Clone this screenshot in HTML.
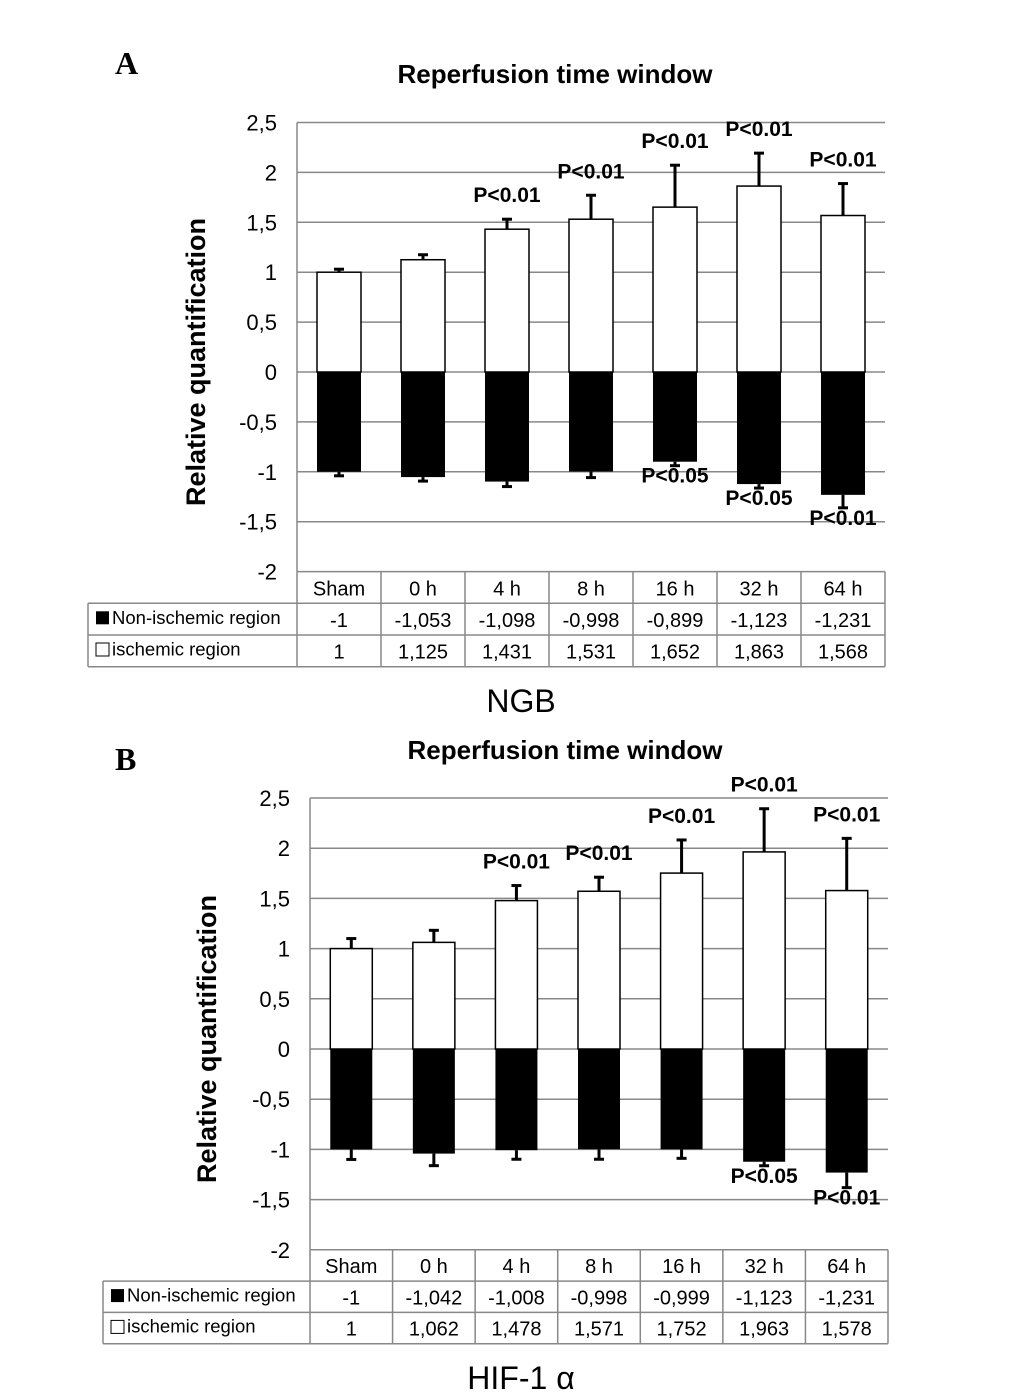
<!DOCTYPE html>
<html><head><meta charset="utf-8"><style>
body{margin:0;background:#fff;}
svg{display:block;font-family:"Liberation Sans",Arial,sans-serif;}
</style></head><body>
<svg id="chart" width="1033" height="1397"></svg>
<script>
const categories=["Sham","0 h","4 h","8 h","16 h","32 h","64 h"];
const ngbNon=[-1,-1.053,-1.098,-0.998,-0.899,-1.123,-1.231];
const ngbIsch=[1,1.125,1.431,1.531,1.652,1.863,1.568];
const ngbNonErr=[0.04,0.04,0.05,0.06,0.04,0.04,0.13];
const ngbIschErr=[0.03,0.05,0.1,0.24,0.42,0.33,0.32];
const ngbPIsch=["","","P<0.01","P<0.01","P<0.01","P<0.01","P<0.01"];
const ngbPNon=["","","","","P<0.05","P<0.05","P<0.01"];
const hifNon=[-1,-1.042,-1.008,-0.998,-0.999,-1.123,-1.231];
const hifIsch=[1,1.062,1.478,1.571,1.752,1.963,1.578];
const hifNonErr=[0.1,0.12,0.09,0.1,0.09,0.04,0.15];
const hifIschErr=[0.1,0.12,0.15,0.14,0.33,0.43,0.52];
const hifPIsch=["","","P<0.01","P<0.01","P<0.01","P<0.01","P<0.01"];
const hifPNon=["","","","","","P<0.05","P<0.01"];
const yTicks=[2.5,2,1.5,1,0.5,0,-0.5,-1,-1.5,-2];
const NS="http://www.w3.org/2000/svg";
const svg=document.getElementById('chart');
function mk(tag,attrs,parent,text){const e=document.createElementNS(NS,tag);for(const k in attrs)e.setAttribute(k,attrs[k]);if(text!==undefined)e.textContent=text;(parent||svg).appendChild(e);return e;}
function fmt(v){return String(v).replace('.',',');}
function panel(p){
  const g=mk('g',{});
  
  
  const y=v=>p.y0-(v)*p.unit;
  const cw=(p.x1-p.x0)/categories.length;
  const x=i=>p.x0+cw*(i+0.5);
  let t=mk('text',{x:p.letterX,y:p.letterY,'font-family':'Liberation Serif,serif','font-weight':'bold','font-size':32},g,p.letter);
  
  t=mk('text',{x:p.titleX,y:p.titleY,'text-anchor':'middle','font-weight':'bold','font-size':26},g,'Reperfusion time window');
  
  yTicks.forEach(v=>{
    const l=mk('line',{x1:p.x0,x2:p.x1,y1:y(v),y2:y(v),stroke:'#888','stroke-width':1.5},g);
    
    const tt=mk('text',{x:p.x0-20,y:y(v)+8,'text-anchor':'end','font-size':22},g,fmt(v));
    
  });
  mk('line',{x1:p.x0,x2:p.x0,y1:y(2.5),y2:y(-2),stroke:'#888','stroke-width':1.5},g);
  t=mk('text',{transform:`translate(${p.axX},${p.y0-10}) rotate(-90)`,'text-anchor':'middle','font-weight':'bold','font-size':27},g,'Relative quantification');
  
  const bw=p.bw;
  categories.forEach((c,i)=>{
    const vi=p.isch[i],vn=p.non[i];
    let r=mk('rect',{x:x(i)-bw/2,y:y(vi),width:bw,height:y(0)-y(vi),fill:'#fff',stroke:'#000','stroke-width':1.5},g);
    
    r=mk('rect',{x:x(i)-bw/2,y:y(0),width:bw,height:y(vn)-y(0),fill:'#000'},g);
    
    const te=vi+p.ie[i];
    mk('line',{x1:x(i),x2:x(i),y1:y(vi),y2:y(te),stroke:'#000','stroke-width':3},g);
    mk('line',{x1:x(i)-5,x2:x(i)+5,y1:y(te),y2:y(te),stroke:'#000','stroke-width':3},g);
    const be=vn-p.ne[i];
    mk('line',{x1:x(i),x2:x(i),y1:y(vn),y2:y(be),stroke:'#000','stroke-width':3},g);
    mk('line',{x1:x(i)-5,x2:x(i)+5,y1:y(be),y2:y(be),stroke:'#000','stroke-width':3},g);
    if(p.pi[i]){const a=mk('text',{x:x(i),y:y(te)-17,'text-anchor':'middle','font-weight':'bold','font-size':21},g,p.pi[i]);}
    if(p.pn[i]){const a=mk('text',{x:x(i),y:y(be)+17,'text-anchor':'middle','font-weight':'bold','font-size':21},g,p.pn[i]);}
  });
  const rh=p.rh,ty=y(-2);
  mk('line',{x1:p.lx,x2:p.x1,y1:ty+rh,y2:ty+rh,stroke:'#888','stroke-width':1.5},g);
  mk('line',{x1:p.lx,x2:p.x1,y1:ty+2*rh,y2:ty+2*rh,stroke:'#888','stroke-width':1.5},g);
  mk('line',{x1:p.lx,x2:p.x1,y1:ty+3*rh,y2:ty+3*rh,stroke:'#888','stroke-width':1.5},g);
  mk('line',{x1:p.lx,x2:p.lx,y1:ty+rh,y2:ty+3*rh,stroke:'#888','stroke-width':1.5},g);
  for(let i=0;i<=categories.length;i++)mk('line',{x1:p.x0+cw*i,x2:p.x0+cw*i,y1:ty,y2:ty+3*rh,stroke:'#888','stroke-width':1.5},g);
  categories.forEach((c,i)=>{
    let a=mk('text',{x:x(i),y:ty+rh-8,'text-anchor':'middle','font-size':20},g,c);
    a=mk('text',{x:x(i),y:ty+2*rh-8,'text-anchor':'middle','font-size':20},g,fmt(p.non[i]));
    a=mk('text',{x:x(i),y:ty+3*rh-8,'text-anchor':'middle','font-size':20},g,fmt(p.isch[i]));
  });
  let s=mk('rect',{x:p.lx+8,y:ty+rh+8,width:13,height:13,fill:'#000'},g);
  t=mk('text',{x:p.lx+24,y:ty+2*rh-11,'font-size':18.5},g,'Non-ischemic region');
  s=mk('rect',{x:p.lx+8,y:ty+2*rh+8,width:13,height:13,fill:'#fff',stroke:'#000'},g);
  t=mk('text',{x:p.lx+24,y:ty+3*rh-11,'font-size':18.5},g,'ischemic region');
  t=mk('text',{x:521,y:p.capY,'text-anchor':'middle','font-size':32},g,p.cap);
}
panel({name:'panel-a-ngb',letter:'A',letterX:115,letterY:74,titleX:555,titleY:83,x0:297,x1:885,y0:372,unit:99.8,bw:44,axX:205,
  isch:ngbIsch,non:ngbNon,ie:ngbIschErr,ne:ngbNonErr,pi:ngbPIsch,pn:ngbPNon,lx:88,rh:31.7,cap:'NGB',capY:712});
panel({name:'panel-b-hif',letter:'B',letterX:115,letterY:770,titleX:565,titleY:759,x0:310,x1:888,y0:1049,unit:100.4,bw:42,axX:216,
  isch:hifIsch,non:hifNon,ie:hifIschErr,ne:hifNonErr,pi:hifPIsch,pn:hifPNon,lx:103,rh:31.3,cap:'HIF-1 α',capY:1389});
</script>
</body></html>
